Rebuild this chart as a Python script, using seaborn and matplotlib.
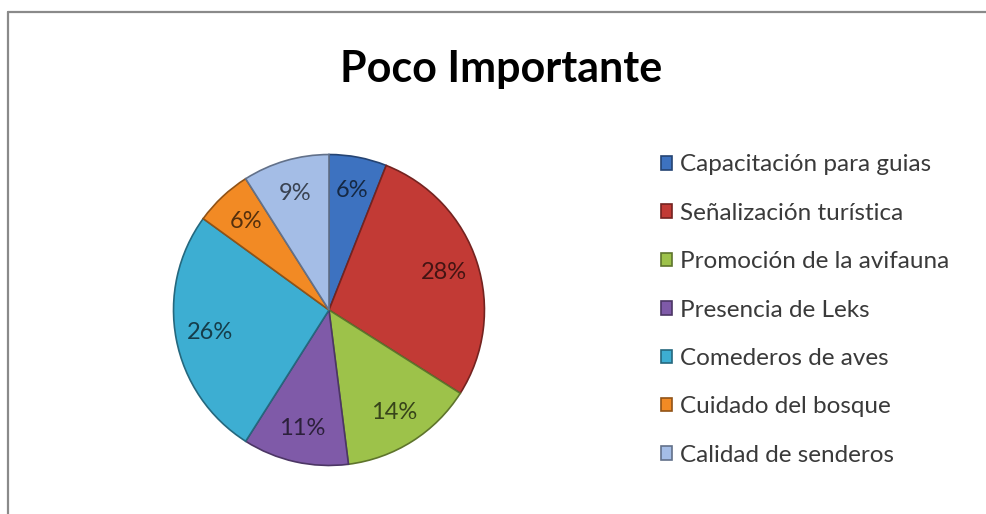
import matplotlib
matplotlib.use("Agg")
import matplotlib.pyplot as plt
from matplotlib.lines import Line2D
import seaborn as sns

# data
categorias = ["Capacitación para guias", "Señalización turística",
              "Promoción de la avifauna", "Presencia de Leks",
              "Comederos de aves", "Cuidado del bosque", "Calidad de senderos"]
porcentajes = [6, 28, 14, 11, 26, 6, 9]

sns.set_theme(style="white")
plt.rcParams['font.family'] = ['Lato', 'DejaVu Sans']

colores = ["#3d72c0", "#c23a35", "#9dc24a", "#7f5aa8",
           "#3daed2", "#f28a24", "#a4bde6"]
oscuros = [tuple(v * 0.35 for v in matplotlib.colors.to_rgb(c)) for c in colores]
bordes = [tuple(v * 0.6 for v in matplotlib.colors.to_rgb(c)) for c in colores]

fig = plt.figure(figsize=(9.86, 5.14), dpi=100)
ax = fig.add_axes([0.1744, 0.0914, 0.3185, 0.611])

wedges, texts, autotexts = ax.pie(porcentajes, colors=colores, startangle=90,
                                  counterclock=False, autopct='%1.0f%%',
                                  pctdistance=0.78, radius=1.0,
                                  wedgeprops=dict(linewidth=1.2))
for w, b in zip(wedges, bordes):
    w.set_edgecolor(b)
for t, c in zip(autotexts, oscuros):
    t.set_color(c)
    t.set_fontsize(17)
ax.set_xlim(-1.01, 1.01)
ax.set_ylim(-1.01, 1.01)
ax.set_aspect('equal')

fig.text(0.508, 0.865, "Poco Importante", ha='center', va='center',
         fontsize=31, fontweight='bold', color='black')

leg = fig.legend(wedges, categorias, loc='upper left',
                 bbox_to_anchor=(0.648, 0.742), frameon=False,
                 fontsize=17.5, labelspacing=1.125, handlelength=0.47,
                 handleheight=0.47, handletextpad=0.3, labelcolor='#3a3a3a')

# chart border (top and left edges visible)
fig.add_artist(Line2D([8 / 986, 1.0], [1 - 12 / 514, 1 - 12 / 514],
                      color='#8a8a8a', linewidth=1.6))
fig.add_artist(Line2D([8 / 986, 8 / 986], [0.0, 1 - 12 / 514],
                      color='#8a8a8a', linewidth=1.6))

fig.savefig("out.png", dpi=100, facecolor='white')
